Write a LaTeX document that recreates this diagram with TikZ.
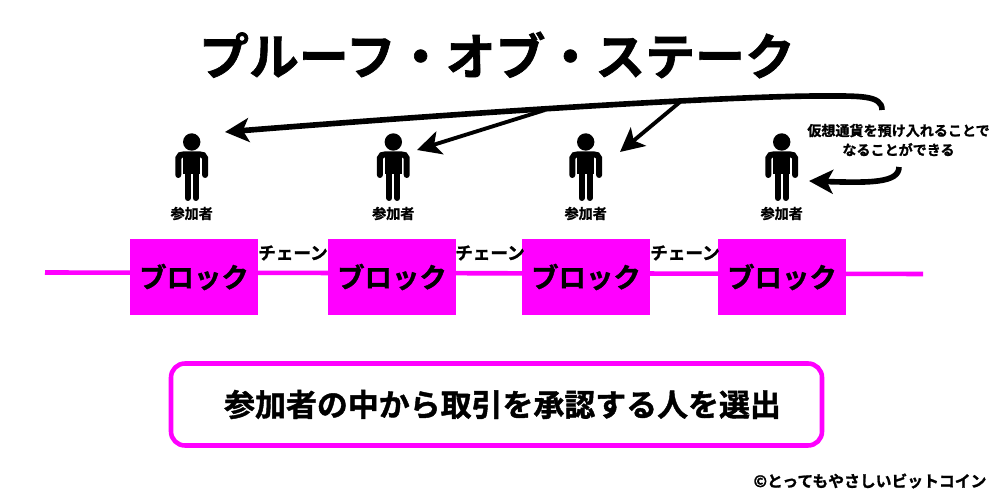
\documentclass[tikz,border=0pt]{standalone}
\usepackage{fontspec}
\setmainfont{Noto Sans CJK JP}[BoldFont=* Bold,BoldFeatures={FakeBold=1.3}]
\usetikzlibrary{arrows.meta}
\definecolor{chainpink}{HTML}{FF00FF}
\tikzset{
    label/.style={font=\bfseries\fontsize{#1}{#1}\selectfont, inner sep=0pt, text=black},
    block/.style={fill=chainpink, minimum width=1.28cm, minimum height=0.76cm, inner sep=0pt,
        font=\bfseries\fontsize{7.8}{7.8}\selectfont},
    chainline/.style={line width=1.3pt, color=chainpink},
    bigarrow/.style={line width=1.6pt, -{Stealth[length=6.8pt,width=6.8pt,inset=1.7pt]}},
    smallarrow/.style={line width=1.1pt, -{Stealth[length=6.8pt,width=6.8pt,inset=1.7pt]}},
    person/.pic={
        \fill (0,0) circle (0.087);
        \fill (-0.085,-0.12) rectangle (0.085,-0.32);
        \draw[line width=1.71pt, line cap=round] (-0.134,-0.33) -- (-0.134,-0.16) to[out=90,in=180] (-0.075,-0.123)
            -- (0.075,-0.123) to[out=0,in=90] (0.134,-0.16) -- (0.134,-0.33);
        \draw[line width=1.71pt, line cap=round] (-0.04,-0.3) -- (-0.04,-0.56);
        \draw[line width=1.71pt, line cap=round] (0.04,-0.3) -- (0.04,-0.56);
    }
}
\begin{document}
\begin{tikzpicture}
    \useasboundingbox (0,0) rectangle (10,5);
    \node[label=14.2] (title) at (4.97,4.45) {プルーフ・オブ・ステーク};
    % participants
    \foreach \name/\x in {a/1.917,b/3.933,c/5.857,d/7.817} {
        \pic at (\x,3.58) {person};
        \node[label=4] (member\name) at (\x,2.865) {参加者};
    }
    \node[label=4, align=center] (note) at (8.985,3.6) {仮想通貨を預け入れることで\\[1.5pt]なることができる};
    % arrows
    \coordinate (startTop) at (8.82,3.9);
    \coordinate (forkB) at (5.45,3.9);
    \coordinate (forkC) at (6.8,3.98);
    \coordinate (tipA) at (2.25,3.68);
    \coordinate (tipB) at (4.17,3.5);
    \coordinate (tipC) at (6.2,3.48);
    \coordinate (startLow) at (8.99,3.33);
    \coordinate (tipD) at (8.09,3.19);
    \draw[bigarrow] (startTop) .. controls (8.82,4.05) and (8.6,4.04) .. (8.2,4.04) .. controls (7.4,4.04) and (5,3.9) .. (tipA);
    \draw[smallarrow] (forkB) -- (tipB);
    \draw[smallarrow] (forkC) -- (tipC);
    \draw[bigarrow] (startLow) .. controls (8.99,3.17) and (8.7,3.17) .. (tipD);
    % chain
    \coordinate (chainL) at (0.45,2.275);
    \coordinate (chainR) at (9.23,2.26);
    \draw[chainline] (chainL) -- (chainR);
    \foreach \name/\x in {a/1.94,b/3.92,c/5.86,d/7.82}
        \node[block] (block\name) at (\x,2.23) {ブロック};
    \foreach \name/\x in {a/2.93,b/4.9,c/6.85}
        \node[label=5] (link\name) at (\x,2.47) {チェーン};
    % bottom box
    \node[draw=chainpink, line width=1.3pt, rounded corners=0.14cm, minimum width=6.51cm, minimum height=0.82cm] (result) at (4.965,0.955) {};
    \node[label=8.8] (resultText) at (5.025,0.955) {参加者の中から取引を承認する人を選出};
    \node[label=4.5] (credit) at (8.7,0.19) {©とってもやさしいビットコイン};
\end{tikzpicture}
\end{document}
